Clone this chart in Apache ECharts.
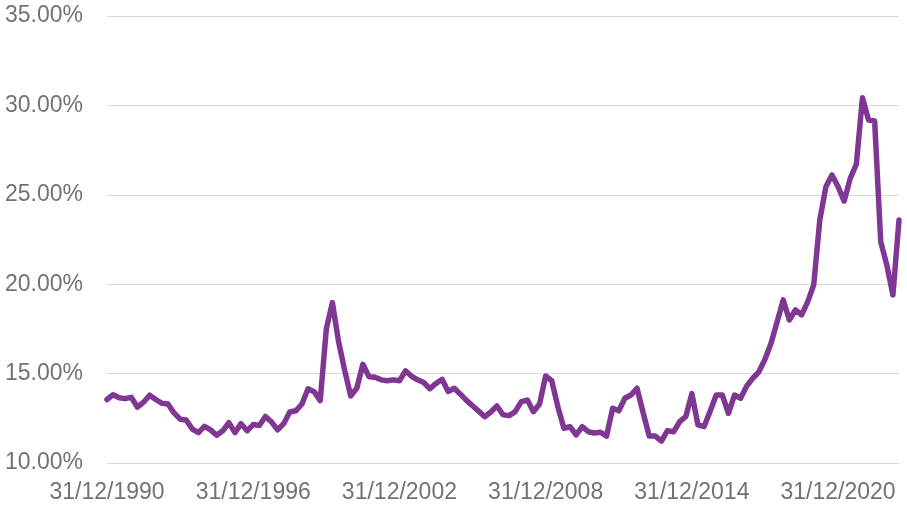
<!DOCTYPE html>
<html>
<head>
<meta charset="utf-8">
<script src="https://cdn.jsdelivr.net/npm/echarts@6/dist/echarts.min.js"></script>
<style>
html,body{margin:0;padding:0;background:#fff;}
#chart{width:907px;height:508px;}
</style>
</head>
<body>
<div id="chart"></div>
<script>
// Quarter-end dates from 31/12/1990 to 30/06/2023
var quarterEnds = ['31/03', '30/06', '30/09', '31/12'];
var categories = ['31/12/1990'];
for (var y = 1991; categories.length < 131; y++) {
  for (var q = 0; q < 4 && categories.length < 131; q++) {
    categories.push(quarterEnds[q] + '/' + y);
  }
}

// Values (%)
var values = [
  13.55, 13.82, 13.65, 13.6, 13.67, 13.12, 13.4, 13.79, 13.55, 13.34,
  13.3, 12.8, 12.45, 12.4, 11.9, 11.7, 12.05, 11.85, 11.55, 11.8,
  12.25, 11.7, 12.2, 11.8, 12.15, 12.1, 12.6, 12.3, 11.85, 12.2,
  12.85, 12.92, 13.3, 14.15, 13.99, 13.49, 17.5, 18.97, 16.8, 15.2,
  13.75, 14.18, 15.52, 14.83, 14.8, 14.65, 14.6, 14.65, 14.6, 15.15,
  14.85, 14.65, 14.5, 14.15, 14.45, 14.68, 14.0, 14.18, 13.85, 13.5,
  13.2, 12.9, 12.59, 12.85, 13.19, 12.7, 12.65, 12.87, 13.43, 13.52,
  12.87, 13.3, 14.87, 14.6, 13.15, 11.94, 12.03, 11.57, 12.03, 11.75,
  11.68, 11.72, 11.5, 13.06, 12.92, 13.62, 13.8, 14.18, 12.81, 11.51,
  11.51, 11.23, 11.81, 11.75, 12.31, 12.59, 13.88, 12.13, 12.03, 12.9,
  13.8, 13.8, 12.78, 13.8, 13.62, 14.3, 14.74, 15.1, 15.8, 16.7,
  17.9, 19.12, 18.0, 18.56, 18.28, 19.0, 19.96, 23.59, 25.45, 26.11,
  25.45, 24.65, 25.92, 26.71, 30.43, 29.18, 29.13, 22.38, 21.07, 19.4,
  23.59
];

var yMin = 10, yMax = 35, yStep = 5;
var textColor = '#767171';
var gridColor = '#d9d9d9';
var fontFamily = "'Liberation Sans', Arial, sans-serif";

var chart = echarts.init(document.getElementById('chart'), null, {renderer: 'canvas'});
chart.setOption({
  animation: false,
  backgroundColor: '#ffffff',
  grid: {left: 107, right: 8, top: 16, bottom: 45, containLabel: false},
  xAxis: {
    type: 'category',
    data: categories,
    boundaryGap: false,
    axisLine: {show: true, lineStyle: {color: gridColor, width: 1}},
    axisTick: {show: false},
    splitLine: {show: false},
    axisLabel: {
      interval: 23,
      color: textColor,
      fontSize: 23,
      fontFamily: fontFamily,
      margin: 18
    }
  },
  yAxis: {
    type: 'value',
    min: yMin,
    max: yMax,
    interval: yStep,
    axisLine: {show: false},
    axisTick: {show: false},
    splitLine: {show: true, lineStyle: {color: gridColor, width: 1}},
    axisLabel: {
      color: textColor,
      fontSize: 23,
      fontFamily: fontFamily,
      margin: 24,
      formatter: function (v) { return v.toFixed(2) + '%'; }
    }
  },
  series: [{
    type: 'line',
    data: values,
    symbol: 'none',
    smooth: false,
    lineStyle: {color: '#7f3793', width: 5.5, join: 'round', cap: 'round'}
  }]
});
</script>
</body>
</html>
